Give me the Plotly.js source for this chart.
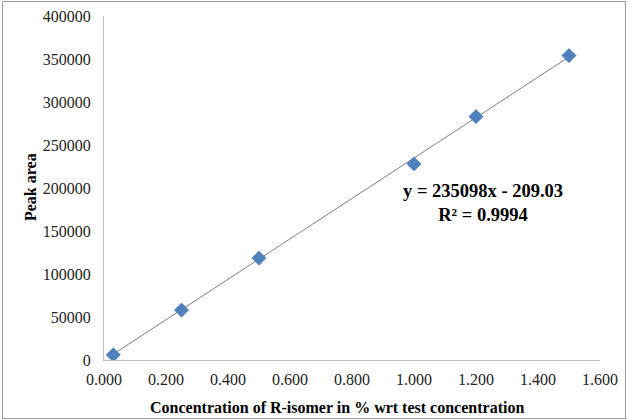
<!DOCTYPE html>
<html><head><meta charset="utf-8">
<script src="https://cdn.plot.ly/plotly-3.0.1.min.js"></script>
<style>body{margin:0;padding:0;background:#fff}#wrap{position:relative;width:634px;height:420px}#chart{width:634px;height:420px}#frame{position:absolute;left:2px;top:1px;width:622px;height:416px;border:1px solid #9a9a9a;pointer-events:none}</style>
</head><body>
<div id="wrap"><div id="chart"></div><div id="frame"></div></div>
<script>
const concentration = [0.03, 0.25, 0.5, 1.0, 1.2, 1.5];
const peakArea = [6000, 58000, 118500, 228000, 283000, 354000];
const slope = 235098;
const intercept = -209.03;
const xTicks = [0, 0.2, 0.4, 0.6, 0.8, 1.0, 1.2, 1.4, 1.6];
const xTickText = ["0.000","0.200","0.400","0.600","0.800","1.000","1.200","1.400","1.600"];
const yTicks = [0, 50000, 100000, 150000, 200000, 250000, 300000, 350000, 400000];

const xMin = Math.min(...concentration), xMax = Math.max(...concentration);
const trendX = [xMin, xMax];
const trendY = trendX.map(x => slope * x + intercept);

const font = "Liberation Serif";
const data = [
  {x: trendX, y: trendY, mode: 'lines', line: {color: '#7f7f7f', width: 1}, hoverinfo: 'skip', showlegend: false},
  {x: concentration, y: peakArea, mode: 'markers', marker: {symbol: 'diamond', size: 11, color: '#4F81BD', line: {color: '#3f6ea6', width: 0.5}}, showlegend: false}
];
const layout = {
  width: 634, height: 420,
  margin: {l: 104, r: 34, t: 16, b: 60},
  paper_bgcolor: '#fff', plot_bgcolor: '#fff',
  font: {family: font, size: 16, color: '#000'},
  showlegend: false,
  xaxis: {range: [0, 1.6], tickvals: xTicks, ticktext: xTickText, showgrid: false, zeroline: false,
    showline: true, linecolor: '#bfbfbf', linewidth: 1, ticks: '', ticklabelstandoff: 5,
    tickfont: {family: font, size: 16, color: '#222'}},
  yaxis: {range: [0, 400000], tickvals: yTicks, ticktext: yTicks.map(String), showgrid: false, zeroline: false,
    showline: true, linecolor: '#bfbfbf', linewidth: 1, ticks: '', ticklabelstandoff: 9,
    tickfont: {family: font, size: 16, color: '#222'}},
  annotations: [
    {xref: 'paper', yref: 'paper', x: (337-104)/496, y: (360-407)/344, text: '<b>Concentration of R-isomer in % wrt test concentration</b>',
      showarrow: false, font: {family: font, size: 16, color: '#000'}, xanchor: 'center', yanchor: 'middle'},
    {xref: 'paper', yref: 'paper', x: (30-104)/496, y: (360-187)/344, text: '<b>Peak area</b>', textangle: -90,
      showarrow: false, font: {family: font, size: 16, color: '#000'}, xanchor: 'center', yanchor: 'middle'},
    {xref: 'paper', yref: 'paper', x: (483-104)/496, y: (360-203)/344, text: '<b>y = 235098x - 209.03<br>R² = 0.9994</b>',
      showarrow: false, font: {family: font, size: 18.5, color: '#000'}, xanchor: 'center', yanchor: 'middle', align: 'center'}
  ]
};
Plotly.newPlot('chart', data, layout, {displayModeBar: false, staticPlot: true});
</script>
</body></html>
